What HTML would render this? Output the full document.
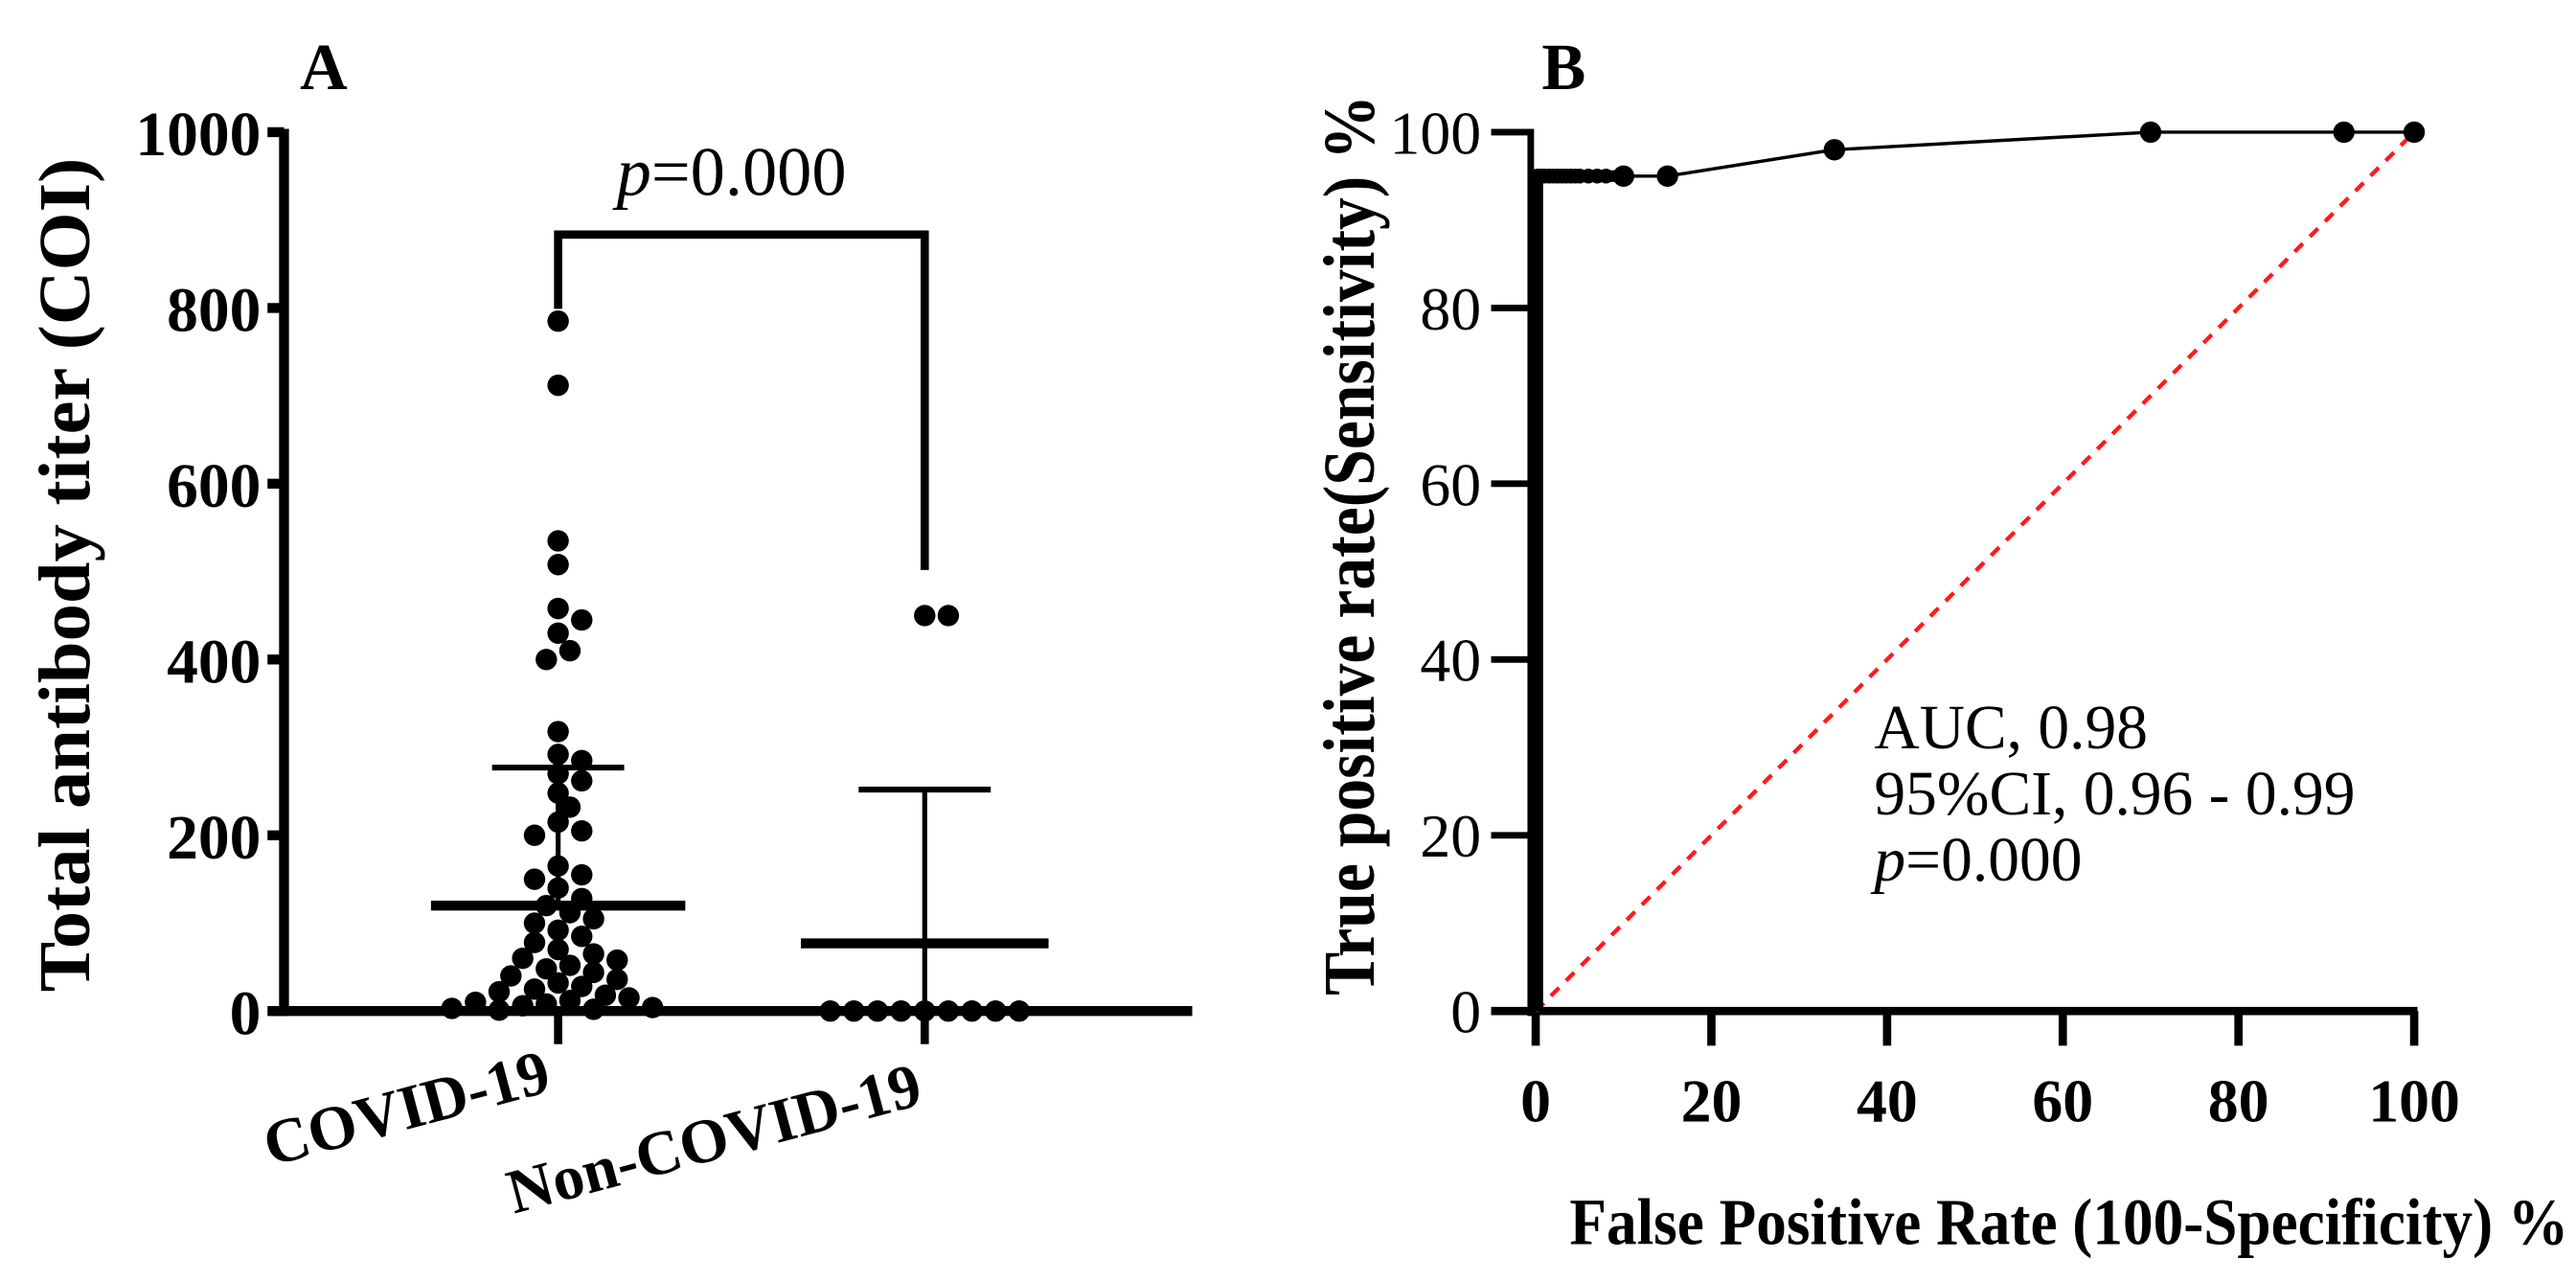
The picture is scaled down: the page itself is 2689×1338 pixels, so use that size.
<!DOCTYPE html>
<html><head><meta charset="utf-8"><style>
html,body{margin:0;padding:0;background:#fff;}
svg{display:block;font-family:"Liberation Serif",serif;}
</style></head><body>
<svg id="fig" width="2689" height="1338" viewBox="0 0 1560 776" preserveAspectRatio="none" xmlns="http://www.w3.org/2000/svg">
<g id="pa"></g>
<g id="pb"></g>
</svg>
<script>
// Panel A data
const aTicks = [0, 200, 400, 600, 800, 1000];
const aCategories = ["COVID-19", "Non-COVID-19"];
const covidValues = [785,712,535,508,458,445,430,410,400,318,292,285,270,262,248,232,215,205,200,165,155,150,140,128,120,112,105,100,92,85,78,70,65,60,58,52,48,44,40,36,32,28,25,22,18,15,12,10,8,6,4,3,2,1];
const nonCovidValues = [450,450,0,0,0,0,0,0,0,0,0];
const aMeans = [120, 77];
const aSD = [277, 252];
const pText = "0.000";
// Panel B data
const bTicks = [0, 20, 40, 60, 80, 100];
const rocFpr = [0,0,0.3,0.6,1,1.5,2,2.5,3,3.5,4,4.5,5,6,7,8,10,15,34,70,92,100];
const rocTpr = [0,95,95,95,95,95,95,95,95,95,95,95,95,95,95,95,95,95,98,100,100,100];
const aucLines = ["AUC, 0.98", "95%CI, 0.96 - 0.99", "0.000"];

const NS = "http://www.w3.org/2000/svg";
function mk(parent, tag, attrs, text){
  const e = document.createElementNS(NS, tag);
  for (const k in attrs) e.setAttribute(k, attrs[k]);
  if (text !== undefined) e.textContent = text;
  parent.appendChild(e);
  return e;
}
const pa = document.getElementById('pa');
const pb = document.getElementById('pb');
let e;

// ---------- Panel A ----------
const ay = v => 612 - v / 1000 * 532;
const catX = [338, 560];
e = mk(pa, 'text', {x:196, y:54, 'font-size':40, 'font-weight':'bold', 'text-anchor':'middle'}, 'A');
 
e = mk(pa, 'line', {x1:172, y1:78, x2:172, y2:615, stroke:'#000', 'stroke-width':6});
 
e = mk(pa, 'line', {x1:163, y1:612, x2:722, y2:612, stroke:'#000', 'stroke-width':6});
 
aTicks.forEach(t => {
  const l = mk(pa, 'line', {x1:162, y1:ay(t), x2:172, y2:ay(t), stroke:'#000', 'stroke-width':6});
   
  const tx = mk(pa, 'text', {x:158, y:ay(t)+14, 'font-size':38, 'font-weight':'bold', 'text-anchor':'end'}, String(t));
   
});
e = mk(pa, 'text', {x:0, y:0, 'font-size':44, 'font-weight':'bold', 'text-anchor':'middle', textLength:505, lengthAdjust:'spacingAndGlyphs', transform:'translate(54,348) rotate(-90)'}, 'Total antibody titer (COI)');
 
catX.forEach((cx, i) => {
  const l = mk(pa, 'line', {x1:cx, y1:612, x2:cx, y2:632, stroke:'#000', 'stroke-width':5});
   
});
e = mk(pa, 'text', {x:0, y:0, 'font-size':38, 'font-weight':'bold', 'text-anchor':'end', transform:'translate(335,660) rotate(-15)'}, aCategories[0]);
 
e = mk(pa, 'text', {x:0, y:0, 'font-size':38, 'font-weight':'bold', 'text-anchor':'end', transform:'translate(560,668) rotate(-15)'}, aCategories[1]);
 

function swarm(vals, cx, r, name){
  const placed = [];
  const sorted = vals.slice().sort((a,b)=>b-a);
  sorted.forEach(v => {
    const y = ay(v);
    let k = 0, x = cx;
    while (true) {
      const off = Math.ceil(k/2) * (k%2 ? 1 : -1) * r * 1.1;
      x = cx + off;
      if (!placed.some(p => (p[0]-x)**2 + (p[1]-y)**2 < (2*r*0.85)**2)) break;
      k++;
      if (k > 60) break;
    }
    placed.push([x, y]);
    const c = mk(pa, 'circle', {cx:x, cy:y, r:r, fill:'#000'});
    
    
  });
}
swarm(covidValues, catX[0], 6.5, 'covid-point');
swarm(nonCovidValues, catX[1], 6.5, 'non-covid-point');

const meanW = [77, 75];
catX.forEach((cx, i) => {
  const v = mk(pa, 'line', {x1:cx, y1:ay(aMeans[i]), x2:cx, y2:ay(aSD[i]), stroke:'#000', 'stroke-width':3});
   
  const m = mk(pa, 'line', {x1:cx-meanW[i], y1:ay(aMeans[i]), x2:cx+meanW[i], y2:ay(aMeans[i]), stroke:'#000', 'stroke-width':6});
   
  const s = mk(pa, 'line', {x1:cx-40, y1:ay(aSD[i]), x2:cx+40, y2:ay(aSD[i]), stroke:'#000', 'stroke-width':3.5});
   
});
e = mk(pa, 'line', {x1:catX[1], y1:612, x2:catX[1], y2:ay(aMeans[1]), stroke:'#000', 'stroke-width':3});
 
e = mk(pa, 'polyline', {points:'338,187 338,142 560,142 560,345', fill:'none', stroke:'#000', 'stroke-width':5});
 
e = mk(pa, 'text', {x:443, y:118, 'font-size':42, 'text-anchor':'middle'});
 
mk(e, 'tspan', {'font-style':'italic'}, 'p');
mk(e, 'tspan', {}, '=' + pText);

// ---------- Panel B ----------
const bx = v => 930 + v / 100 * 532;
const by = v => 612 - v / 100 * 532;
e = mk(pb, 'text', {x:947, y:54, 'font-size':40, 'font-weight':'bold', 'text-anchor':'middle'}, 'B');
 
e = mk(pb, 'line', {x1:927, y1:78, x2:927, y2:615, stroke:'#000', 'stroke-width':4});
 
e = mk(pb, 'line', {x1:903, y1:612, x2:bx(100)+2, y2:612, stroke:'#000', 'stroke-width':5});
 
bTicks.forEach(t => {
  const l = mk(pb, 'line', {x1:903, y1:by(t), x2:927, y2:by(t), stroke:'#000', 'stroke-width':4});
   
  const tx = mk(pb, 'text', {x:897, y:by(t)+13, 'font-size':37, 'text-anchor':'end'}, String(t));
   
  const l2 = mk(pb, 'line', {x1:bx(t), y1:612, x2:bx(t), y2:633, stroke:'#000', 'stroke-width':5});
   
  const tx2 = mk(pb, 'text', {x:bx(t), y:679, 'font-size':37, 'font-weight':'bold', 'text-anchor':'middle'}, String(t));
   
});
e = mk(pb, 'text', {x:1253, y:753, 'font-size':40, 'font-weight':'bold', 'text-anchor':'middle', textLength:605, lengthAdjust:'spacingAndGlyphs'}, 'False Positive Rate (100-Specificity) %');
 
e = mk(pb, 'text', {x:0, y:0, 'font-size':44, 'font-weight':'bold', 'text-anchor':'middle', textLength:545, lengthAdjust:'spacingAndGlyphs', transform:'translate(832,330) rotate(-90)'}, 'True positive rate(Sensitivity) %');
 
e = mk(pb, 'line', {x1:bx(0), y1:by(0), x2:bx(100), y2:by(100), stroke:'#ff1a1a', 'stroke-width':2.5, 'stroke-dasharray':'7,6'});
 
const pts = rocFpr.map((f,i)=>bx(f)+','+by(rocTpr[i])).join(' ');
e = mk(pb, 'polyline', {points:pts, fill:'none', stroke:'#000', 'stroke-width':2});
 
e = mk(pb, 'line', {x1:bx(0)+1, y1:by(0), x2:bx(0)+1, y2:by(rocTpr[1]), stroke:'#000', 'stroke-width':7});
 
e = mk(pb, 'line', {x1:bx(0)+1, y1:by(rocTpr[1]), x2:bx(rocFpr[16]), y2:by(rocTpr[16]), stroke:'#000', 'stroke-width':7});
 
rocFpr.forEach((f,i) => {
  if (i === 0) return;
  const c = mk(pb, 'circle', {cx:bx(f)+(f===0?1:0), cy:by(rocTpr[i]), r:f>=10?6.5:4.5, fill:'#000'});
  
  
});
e = mk(pb, 'text', {x:1135, y:453, 'font-size':38}, aucLines[0]);
 
e = mk(pb, 'text', {x:1135, y:493, 'font-size':38}, aucLines[1]);
 
e = mk(pb, 'text', {x:1135, y:533, 'font-size':38});
 
mk(e, 'tspan', {'font-style':'italic'}, 'p');
mk(e, 'tspan', {}, '=' + aucLines[2]);
</script>
</body></html>
